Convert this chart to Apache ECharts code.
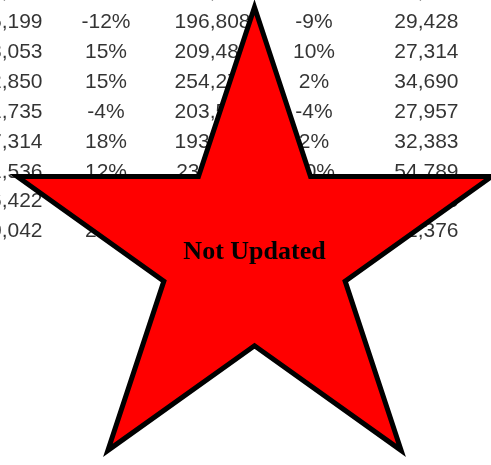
<!DOCTYPE html>
<html lang="en">

<head>
  <meta charset="UTF-8">
  <title>not-updated-table</title>
  <style type="text/css">
    html, body { margin: 0; padding: 0; background: #fff; }
    #main { width: 491px; height: 465px; }
  </style>
</head>

<body>
  <div id="main"></div>
  <script src="https://cdn.jsdelivr.net/npm/echarts@6/dist/echarts.min.js"></script>
  <script type="text/javascript">

    // table columns, one value per row (row 0 is cut off by the top edge)
    var rows = [0, 1, 2, 3, 4, 5, 6, 7, 8]
    var colA = [26418, 25199, 28053, 32850, 31735, 37314, 41536, 36422, 40042]
    var colB = [5, -12, 15, 15, -4, 18, 12, 9, 24]
    var colC = [224531, 196808, 209486, 254273, 203561, 193452, 236117, 219045, 251380]
    var colD = [3, -9, 10, 2, -4, 2, 10, 6, 8]
    var colE = [31402, 29428, 27314, 34690, 27957, 32383, 54789, 30415, 31376]
    var stampText = 'Not Updated'

    var columns = [
      { values: colA, kind: 'num' },
      { values: colB, kind: 'pct' },
      { values: colC, kind: 'num' },
      { values: colD, kind: 'pct' },
      { values: colE, kind: 'num' }
    ]

    function fmt (kind, v) {
      if (kind === 'pct') return v + '%'
      return v.toLocaleString('en-US')
    }

    // five pointed star outline, slightly squashed like the office shape
    function starPoints (cx, cy, rx, ry) {
      var pts = []
      var inner = 0.38197
      for (var i = 0; i < 10; i++) {
        var a = (-90 + i * 36) * Math.PI / 180
        var k = i % 2 === 0 ? 1 : inner
        pts.push([cx + Math.cos(a) * rx * k, cy + Math.sin(a) * ry * k])
      }
      return pts
    }

    var myChart = echarts.init(document.getElementById('main'))

    var series = columns.map(function (col, ci) {
      return {
        type: 'scatter',
        symbolSize: 0,
        silent: true,
        clip: false,
        data: rows.map(function (r) {
          return [ci, r, col.values[r]]
        }),
        label: {
          show: true,
          position: 'inside',
          align: col.kind === 'num' ? 'right' : 'center',
          offset: col.kind === 'num' ? [40.5, 0] : [0, 0],
          color: '#000',
          fontSize: 21,
          fontFamily: '"Liberation Sans", Arial, sans-serif',
          formatter: function (p) {
            return fmt(col.kind, p.value[2])
          }
        }
      }
    })

    var option = {
      backgroundColor: '#fff',
      animation: false,
      // rows 1..8 span the grid, row 0 sits just above it and is cut by the edge
      grid: {
        left: 2,
        width: 416,
        top: 22.46,
        height: 209
      },
      xAxis: { type: 'value', min: 0, max: 4, show: false },
      yAxis: { type: 'value', min: 1, max: 8, inverse: true, show: false },
      graphic: [
        {
          type: 'polygon',
          z: 10,
          shape: {
            points: starPoints(254.5, 252.2, 249.5, 245)
          },
          style: {
            fill: '#ff0000',
            stroke: '#000',
            lineWidth: 5,
            lineJoin: 'miter',
            miterLimit: 10
          }
        },
        {
          type: 'text',
          z: 11,
          x: 254.5,
          y: 252,
          style: {
            text: stampText,
            fill: '#000',
            font: 'bold 26px "Liberation Serif", "Times New Roman", serif',
            align: 'center',
            verticalAlign: 'middle'
          }
        }
      ],
      series: series
    }
    myChart.setOption(option)
  </script>
</body>

</html>
